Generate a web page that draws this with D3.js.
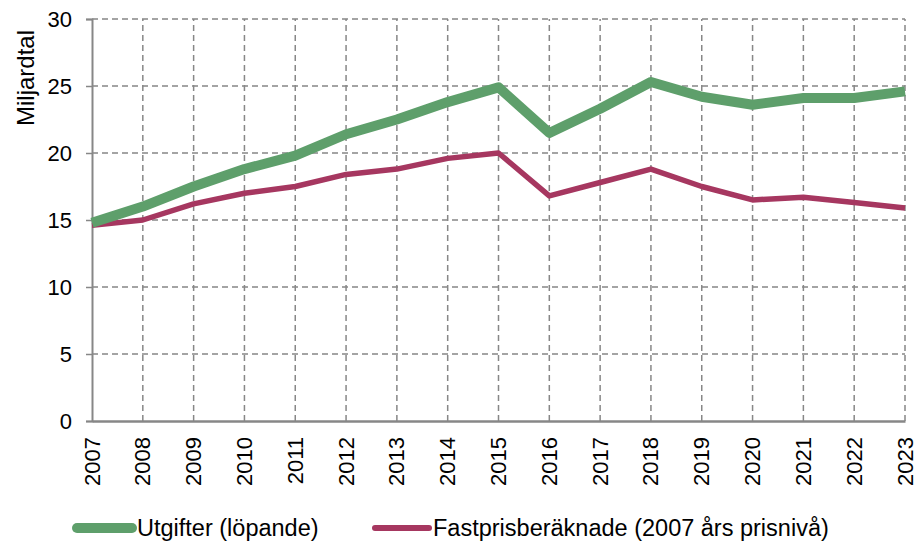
<!DOCTYPE html>
<html>
<head>
<meta charset="utf-8">
<script src="https://cdn.jsdelivr.net/npm/d3@7/dist/d3.min.js"></script>
<style>
	body { margin: 0; background: #fff; }
	svg text { font-family: "Liberation Sans", Arial, sans-serif; fill: #000; }
</style>
</head>
<body>
<div id="chart"></div>
<script>
var years = [2007, 2008, 2009, 2010, 2011, 2012, 2013, 2014, 2015, 2016, 2017, 2018, 2019, 2020, 2021, 2022, 2023];
var utgifter = [14.8, 16.0, 17.5, 18.8, 19.8, 21.4, 22.5, 23.8, 24.9, 21.5, 23.3, 25.3, 24.2, 23.6, 24.1, 24.1, 24.6];
var fastpris = [14.6, 15.0, 16.2, 17.0, 17.5, 18.4, 18.8, 19.6, 20.0, 16.8, 17.8, 18.8, 17.5, 16.5, 16.7, 16.3, 15.9];
var yTicks = [0, 5, 10, 15, 20, 25, 30];
var seriesNames = ["Utgifter (löpande)", "Fastprisberäknade (2007 års prisnivå)"];
var colors = ["#5e9f6b", "#a63760"];

var width = 916, height = 542;
var margin = {top: 19, right: 11, bottom: 121, left: 92};

var svg = d3.select("#chart")
	.append("svg")
	.attr("width", width)
	.attr("height", height);

var xScale = d3.scalePoint()
	.domain(years)
	.range([margin.left, width - margin.right]);
var yScale = d3.scaleLinear()
	.domain([0, 30])
	.range([height - margin.bottom, margin.top]);

//Grid lines
var grid = svg.append("g").attr("class", "grid");
grid.selectAll(".hgrid")
	.data(yTicks.filter(function(d){ return d > 0; }))
	.enter().append("line")
	.attr("x1", margin.left)
	.attr("x2", width - margin.right)
	.attr("y1", function(d){ return yScale(d); })
	.attr("y2", function(d){ return yScale(d); })
	.attr("stroke", "#878787")
	.attr("stroke-width", 1.5)
	.attr("stroke-dasharray", "6,4");
grid.selectAll(".vgrid")
	.data(years.slice(1))
	.enter().append("line")
	.attr("x1", function(d){ return xScale(d); })
	.attr("x2", function(d){ return xScale(d); })
	.attr("y1", yScale(0))
	.attr("y2", yScale(30))
	.attr("stroke", "#878787")
	.attr("stroke-width", 1.5)
	.attr("stroke-dasharray", "6,4");

//Axes
var yAxis = d3.axisLeft(yScale).tickValues(yTicks).tickSize(6).tickPadding(14);
var gy = svg.append("g")
	.attr("transform", "translate(" + margin.left + ",0)")
	.call(yAxis);
gy.select(".domain").attr("stroke", "#878787").attr("stroke-width", 2);
gy.selectAll(".tick line").attr("stroke", "#878787").attr("stroke-width", 1.5);
gy.selectAll(".tick text")
	.style("font-size", "22px")
	.attr("dy", "0.35em");

var xAxis = d3.axisBottom(xScale).tickSize(0).tickPadding(0);
var gx = svg.append("g")
	.attr("transform", "translate(0," + yScale(0) + ")")
	.call(xAxis);
gx.select(".domain").attr("stroke", "#878787").attr("stroke-width", 2.5);
gx.selectAll(".tick text")
	.style("font-size", "22px")
	.attr("text-anchor", "end")
	.attr("transform", "translate(7,16)rotate(-90)")
	.attr("x", 0)
	.attr("y", 0)
	.attr("dy", 0);

//Lines
var line = d3.line()
	.x(function(d, i){ return xScale(years[i]); })
	.y(function(d){ return yScale(d); });

svg.append("path")
	.datum(fastpris)
	.attr("d", line)
	.attr("fill", "none")
	.attr("stroke", colors[1])
	.attr("stroke-width", 5.5)
	.attr("stroke-linejoin", "round");

svg.append("path")
	.datum(utgifter)
	.attr("d", line)
	.attr("fill", "none")
	.attr("stroke", colors[0])
	.attr("stroke-width", 10)
	.attr("stroke-linejoin", "round");

//Y axis title
svg.append("text")
	.attr("text-anchor", "middle")
	.attr("transform", "translate(34,78)rotate(-90)")
	.style("font-size", "24px")
	.text("Miljardtal");

//Legend
var legendItems = [
	{x1: 77, x2: 132, w: 10, tx: 137},
	{x1: 375, x2: 429, w: 6, tx: 433}
];
var legend = svg.append("g");
legendItems.forEach(function(it, i){
	legend.append("line")
		.attr("x1", it.x1).attr("x2", it.x2)
		.attr("y1", 528).attr("y2", 528)
		.attr("stroke", colors[i])
		.attr("stroke-width", it.w)
		.attr("stroke-linecap", "round");
	legend.append("text")
		.attr("x", it.tx)
		.attr("y", 536)
		.style("font-size", "23.5px")
		.text(seriesNames[i]);
});
</script>
</body>
</html>
